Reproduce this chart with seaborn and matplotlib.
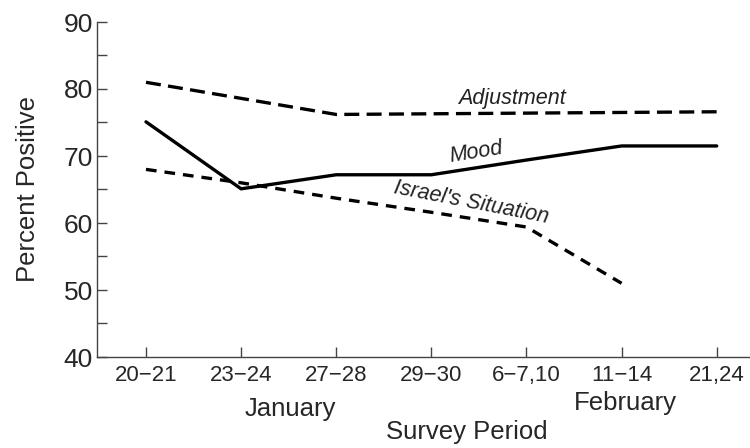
import numpy as np
import pandas as pd
import matplotlib
matplotlib.use("Agg")
import matplotlib.pyplot as plt
import seaborn as sns

periods = ["20\u221221", "23\u221224", "27\u221228", "29\u221230", "6\u22127,10", "11\u221214", "21,24"]
adjustment = [81.0, 78.6, 76.2, 76.3, 76.4, 76.5, 76.6]
mood = [75.1, 65.1, 67.2, 67.2, 69.4, 71.5, 71.5]
israel = [68.0, 66.0, 63.7, 61.6, 59.4, 51.0, np.nan]
y_ticks = [40, 50, 60, 70, 80, 90]

sns.set_theme(style="white")
plt.rcParams['font.family'] = ['Liberation Sans', 'DejaVu Sans']

rows = []
for name, vals in [("Adjustment", adjustment), ("Mood", mood), ("Israel's Situation", israel)]:
    for i, v in enumerate(vals):
        rows.append({"pos": i, "value": v, "series": name})
df = pd.DataFrame(rows).dropna()

fig = plt.figure(figsize=(7.5, 4.48), dpi=100)
ax = fig.add_axes([97/750, 1 - 357/448, (750-97)/750, (357-22)/448])

sns.lineplot(data=df, x="pos", y="value", style="series",
             dashes={"Adjustment": (4.5, 2.2), "Mood": "", "Israel's Situation": (3.2, 2.4)},
             color="black", linewidth=2.4, legend=False, ax=ax)

ax.set_xlim(-0.515, 6.35)
ax.set_ylim(40, 90)
ax.set_xticks(range(len(periods)))
ax.set_xticklabels(periods, fontsize=16)
ax.set_yticks(y_ticks)
ax.set_yticklabels([str(t) for t in y_ticks], fontsize=19)
ax.set_yticks([45, 55, 65, 75, 85], minor=True)
ax.tick_params(axis='both', which='both', direction='in', length=7, width=1, color='#444444', left=True, bottom=True)
ax.tick_params(axis='x', pad=6)
ax.tick_params(axis='y', pad=3)
ax.set_xlabel("")
ax.set_ylabel("Percent Positive", fontsize=18.5, labelpad=17)
for s in ["top", "right"]:
    ax.spines[s].set_visible(False)
for s in ["left", "bottom"]:
    ax.spines[s].set_color("#444444")
    ax.spines[s].set_linewidth(1.0)

fig.text(290/750, 1 - 409/448, "January", fontsize=18.5, ha="center", va="center")
fig.text(625/750, 1 - 403/448, "February", fontsize=18.5, ha="center", va="center")
fig.text(467/750, 1 - 432/448, "Survey Period", fontsize=18.5, ha="center", va="center")

lab = dict(fontsize=15.5, style="italic", fontweight="light", ha="center", va="center", color="#222222")
ax.text(3.85, 78.6, "Adjustment", rotation=0, **lab)
ax.text(3.47, 70.5, "Mood", rotation=9, **lab)
ax.text(3.42, 63.0, "Israel's Situation", rotation=-11, **lab)

fig.savefig("out.png", dpi=100)
